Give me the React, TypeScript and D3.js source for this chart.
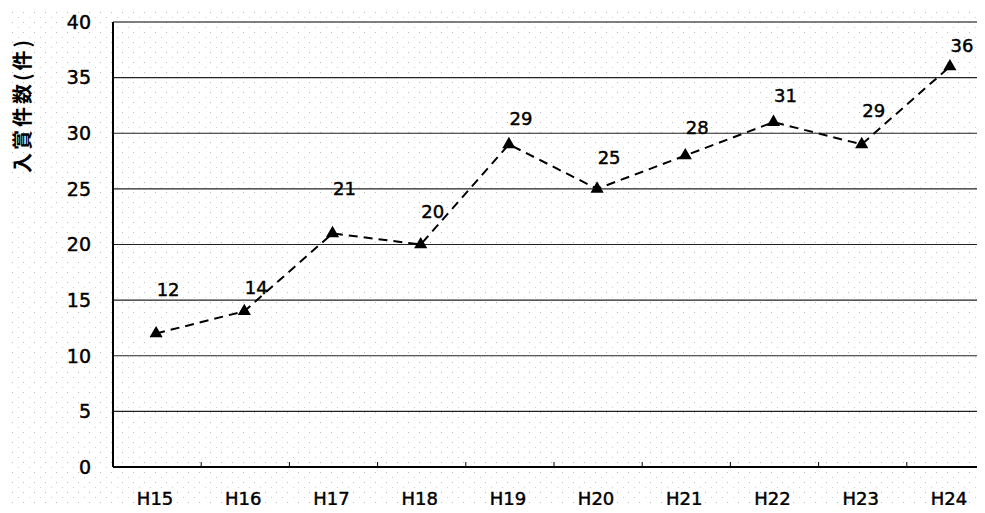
import { useEffect, useRef } from 'react';
import * as d3 from 'd3';

const years = ['H15', 'H16', 'H17', 'H18', 'H19', 'H20', 'H21', 'H22', 'H23', 'H24'];
const awards = [12, 14, 21, 20, 29, 25, 28, 31, 29, 36];
const yTicks = [0, 5, 10, 15, 20, 25, 30, 35, 40];
// hand-placed label lift (px above the point), as in the original
const labelLift = [44, 24, 45, 33, 26, 31, 28, 27, 34, 21];

const App = () => {
  const svgRef = useRef<SVGSVGElement>(null);

  useEffect(() => {
    const W = 985;
    const H = 513;
    const margin = { top: 22, left: 113, bottom: 46 };
    const plotW = 882; // runs past the right edge, as the scan is cropped
    const plotH = H - margin.top - margin.bottom;

    const root = d3.select(svgRef.current);
    root.selectAll('*').remove();
    root.attr('width', W).attr('height', H);

    // halftone speckle of the scan
    const defs = root.append('defs');
    const pat = defs.append('pattern')
      .attr('id', 'speck')
      .attr('width', 11)
      .attr('height', 10)
      .attr('patternUnits', 'userSpaceOnUse');
    pat.append('rect').attr('width', 11).attr('height', 10).attr('fill', '#fff');
    pat.append('rect').attr('x', 1).attr('y', 2).attr('width', 1).attr('height', 1).attr('fill', '#bbb');
    pat.append('rect').attr('x', 7).attr('y', 7).attr('width', 1).attr('height', 1).attr('fill', '#d0d0d0');
    root.append('rect').attr('width', W).attr('height', H).attr('fill', 'url(#speck)');

    const g = root.append('g').attr('transform', `translate(${margin.left},${margin.top})`);

    const x = d3.scaleBand().domain(years).range([0, plotW]);
    const y = d3.scaleLinear().domain([0, 40]).range([plotH, 0]);

    const font = '"DejaVu Sans", sans-serif';
    const txt = (sel: any, size: number) =>
      sel.style('font-family', font)
        .style('font-size', `${size}px`)
        .attr('fill', '#000')
        .attr('stroke', '#000')
        .attr('stroke-width', 0.45);

    // gridlines
    g.selectAll('line.grid')
      .data(yTicks.filter(t => t > 0))
      .enter()
      .append('line')
      .attr('x1', 0)
      .attr('x2', plotW)
      .attr('y1', d => y(d))
      .attr('y2', d => y(d))
      .attr('stroke', d => (d === 40 ? '#555' : '#222'))
      .attr('stroke-width', d => (d === 40 ? 1.6 : 1.1));

    // axes lines
    g.append('line').attr('x1', 0).attr('x2', 0).attr('y1', 0).attr('y2', plotH)
      .attr('stroke', '#000').attr('stroke-width', 2);
    g.append('line').attr('x1', 0).attr('x2', plotW).attr('y1', plotH).attr('y2', plotH)
      .attr('stroke', '#000').attr('stroke-width', 2);

    // x tick marks between categories
    g.selectAll('line.xt')
      .data(years.slice(1))
      .enter()
      .append('line')
      .attr('x1', d => x(d)!)
      .attr('x2', d => x(d)!)
      .attr('y1', plotH - 5)
      .attr('y2', plotH)
      .attr('stroke', '#000')
      .attr('stroke-width', 1);

    // y tick labels
    txt(g.selectAll('text.yt')
      .data(yTicks)
      .enter()
      .append('text')
      .attr('x', -22)
      .attr('y', d => y(d))
      .attr('dy', '0.36em')
      .attr('text-anchor', 'end')
      .text(d => d), 19);

    // x labels
    txt(g.selectAll('text.xl')
      .data(years)
      .enter()
      .append('text')
      .attr('x', d => x(d)! + x.bandwidth() / 2 - 2)
      .attr('y', plotH + 38)
      .attr('text-anchor', 'middle')
      .text(d => d), 18);

    // y axis title
    root.append('text')
      .attr('transform', 'translate(30,105) rotate(-90)')
      .attr('text-anchor', 'middle')
      .style('font-family', '"Noto Sans CJK JP", sans-serif')
      .style('font-size', '20px')
      .style('font-weight', 'bold')
      .style('letter-spacing', '3px')
      .text('入賞件数(件)');

    const cx = (i: number) => x(years[i])! + x.bandwidth() / 2 - 1;

    // dashed line
    const line = d3.line<number>()
      .x((_, i) => cx(i))
      .y(d => y(d));
    g.append('path')
      .datum(awards)
      .attr('d', line)
      .attr('fill', 'none')
      .attr('stroke', '#000')
      .attr('stroke-width', 2)
      .attr('stroke-dasharray', '9,6');

    // triangle markers
    const tri = d3.symbol().type(d3.symbolTriangle).size(75);
    g.selectAll('path.mk')
      .data(awards)
      .enter()
      .append('path')
      .attr('d', tri)
      .attr('transform', (d, i) => `translate(${cx(i)},${y(d)})`)
      .attr('fill', '#000');

    // value labels
    txt(g.selectAll('text.vl')
      .data(awards)
      .enter()
      .append('text')
      .attr('x', (_, i) => cx(i) + 12)
      .attr('y', (d, i) => y(d) - labelLift[i])
      .attr('dy', '0.36em')
      .attr('text-anchor', 'middle')
      .text(d => d), 18);
  }, []);

  return <svg ref={svgRef} style={{ display: 'block', margin: '-8px' }}></svg>;
};

export default App;
